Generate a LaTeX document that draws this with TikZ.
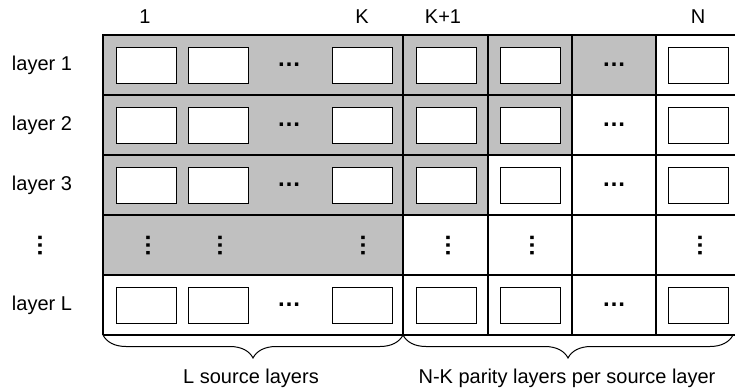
\documentclass[tikz,border=0pt]{standalone}
\usepackage{fontspec}
\setmainfont{Liberation Sans}
\usetikzlibrary{decorations.pathreplacing}
\definecolor{cellgray}{HTML}{C0C0C0}
\begin{document}
\begin{tikzpicture}[x=1pt,y=-1pt,
  font=\fontsize{20}{24}\selectfont,
  gridline/.style={line width=1.1pt},
  outerline/.style={line width=1.6pt},
  blk/.style={draw, line width=1pt, fill=white, minimum width=60pt, minimum height=36pt, inner sep=0pt},
  lbl/.style={inner sep=0pt},
  hdots/.style={inner sep=0pt, font=\fontsize{24}{28}\selectfont\bfseries},
  vdots/.style={inner sep=0pt, rotate=90, font=\fontsize{24}{28}\selectfont\bfseries},
  bracestyle/.style={decorate, decoration={brace, mirror, amplitude=23pt}, line width=1pt}
]
\useasboundingbox (0,0) rectangle (735,391);
% shading
\fill[cellgray] (103,35) rectangle (403,275);
\fill[cellgray] (403,35) rectangle (656,95);
\fill[cellgray] (403,95) rectangle (572,155);
\fill[cellgray] (403,155) rectangle (488,215);
% grid lines
\foreach \yy in {95,155,215,275,335}
  \draw[gridline] (103,\yy) -- (745,\yy);
\foreach \xx in {488,572,656}
  \draw[gridline] (\xx,35) -- (\xx,335);
\draw[outerline] (745,35) -- (103,35) -- (103,335);
\draw[outerline] (403,35) -- (403,335);
% boxes
\foreach \r/\yy in {1/65,2/125,3/185,5/305}{
  \foreach \c/\xx in {1/146,2/218,3/362,4/446,5/530,6/698}
    \node[blk] (b\r\c) at (\xx,\yy) {};
  \node[hdots] (ds\r) at (289,\yy) {…};
  \node[hdots] (dp\r) at (614,\yy) {…};
}
% vertical dots row
\foreach \c/\xx in {1/148,2/220,3/363,4/448,5/532,6/700}
  \node[vdots] (v\c) at (\xx,245) {…};
% column labels
\node[lbl] (c1) at (145,17) {1};
\node[lbl] (cK) at (362,17) {K};
\node[lbl] (cK1) at (443,17) {K+1};
\node[lbl] (cN) at (698,17) {N};
% row labels
\node[lbl] (l1) at (42,65) {layer 1};
\node[lbl] (l2) at (42,125) {layer 2};
\node[lbl] (l3) at (42,185) {layer 3};
\node[vdots] (l4) at (40,245) {…};
\node[lbl] (l5) at (42,305) {layer L};
% braces
\coordinate (bl) at (103,335);
\coordinate (bm) at (403,335);
\coordinate (br) at (733,335);
\draw[bracestyle] (bl) -- (bm);
\draw[bracestyle] (bm) -- (br);
\node[lbl] (t1) at (251,378) {L source layers};
\node[lbl] (t2) at (567,378) {N-K parity layers per source layer};
\end{tikzpicture}
\end{document}
